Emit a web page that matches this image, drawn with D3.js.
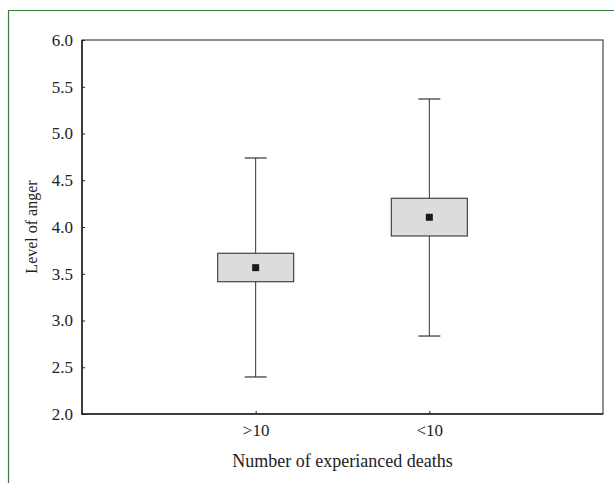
<!DOCTYPE html>
<html><head><meta charset="utf-8">
<script src="https://cdn.jsdelivr.net/npm/d3@7"></script>
<style>body{margin:0;background:#fff}svg{display:block}svg text{font-family:'Liberation Serif','DejaVu Serif',serif}</style>
</head><body>
<svg id="c" width="614" height="483"></svg>
<script>
const categories = [">10", "<10"];
const means = [3.565, 4.104];
const boxLow = [3.415, 3.904];
const boxHigh = [3.719, 4.307];
const whiskLow = [2.396, 2.834];
const whiskHigh = [4.738, 5.369];
const yTicks = [2.0, 2.5, 3.0, 3.5, 4.0, 4.5, 5.0, 5.5, 6.0];

const svg = d3.select("#c");
const font = "'Liberation Serif', 'DejaVu Serif', serif";
// figure border (green)
svg.append("path").attr("d","M8.5,483 V10.5 H614").attr("fill","none").attr("stroke","#3a7d3a").attr("stroke-width",1.2);

const m = {l:82, t:40, r:603, b:414};
const x = d3.scalePoint().domain(categories).range([m.l, m.r]).padding(1);
const y = d3.scaleLinear().domain([2,6]).range([m.b, m.t]);

// frame
svg.append("rect").attr("x",m.l).attr("y",m.t).attr("width",m.r-m.l).attr("height",m.b-m.t)
  .attr("fill","none").attr("stroke","#555").attr("stroke-width",1.3);
svg.append("path").attr("d",`M${m.l},${m.t} V${m.b} H${m.r}`).attr("fill","none").attr("stroke","#222").attr("stroke-width",1.5);

const yAxis = svg.append("g").attr("transform",`translate(${m.l},0)`)
  .call(d3.axisRight(y).tickValues(yTicks).tickFormat(d3.format(".1f")).tickSize(3));
yAxis.attr("font-family",null).attr("font-size",null);
yAxis.select(".domain").remove();
yAxis.selectAll("line").attr("stroke","#222");
yAxis.selectAll("text").attr("x",-9).attr("text-anchor","end")
  .style("font-family",font).style("font-size","17px").attr("fill","#222");

const xAxis = svg.append("g").attr("transform",`translate(0,${m.b})`)
  .call(d3.axisTop(x).tickSize(3));
xAxis.attr("font-family",null).attr("font-size",null);
xAxis.select(".domain").remove();
xAxis.selectAll("line").attr("stroke","#222");
xAxis.selectAll("text").attr("y",17).attr("dy","0.32em")
  .style("font-family",font).style("font-size","17px").attr("fill","#222");

const bw = 76, cw = 22;
const g = svg.append("g").selectAll("g").data(categories).join("g");
g.append("line").attr("x1",d=>x(d)).attr("x2",d=>x(d))
  .attr("y1",(d,i)=>y(whiskHigh[i])).attr("y2",(d,i)=>y(whiskLow[i])).attr("stroke","#333").attr("stroke-width",1);
g.append("line").attr("x1",d=>x(d)-cw/2).attr("x2",d=>x(d)+cw/2)
  .attr("y1",(d,i)=>y(whiskHigh[i])).attr("y2",(d,i)=>y(whiskHigh[i])).attr("stroke","#333").attr("stroke-width",1.2);
g.append("line").attr("x1",d=>x(d)-cw/2).attr("x2",d=>x(d)+cw/2)
  .attr("y1",(d,i)=>y(whiskLow[i])).attr("y2",(d,i)=>y(whiskLow[i])).attr("stroke","#333").attr("stroke-width",1.2);
g.append("rect").attr("x",d=>x(d)-bw/2).attr("width",bw)
  .attr("y",(d,i)=>y(boxHigh[i])).attr("height",(d,i)=>y(boxLow[i])-y(boxHigh[i]))
  .attr("fill","#dcdcdc").attr("stroke","#444").attr("stroke-width",1.2);
g.append("rect").attr("x",d=>x(d)-3.5).attr("width",7)
  .attr("y",(d,i)=>y(means[i])-3.5).attr("height",7).attr("fill","#1a1a1a");

svg.append("text").attr("transform",`translate(37,${(m.t+m.b)/2}) rotate(-90)`)
  .attr("text-anchor","middle").style("font-size","16px").attr("fill","#222").text("Level of anger");
svg.append("text").attr("x",(m.l+m.r)/2).attr("y",467)
  .attr("text-anchor","middle").style("font-size","18px").attr("fill","#222").text("Number of experianced deaths");
</script>
</body></html>
